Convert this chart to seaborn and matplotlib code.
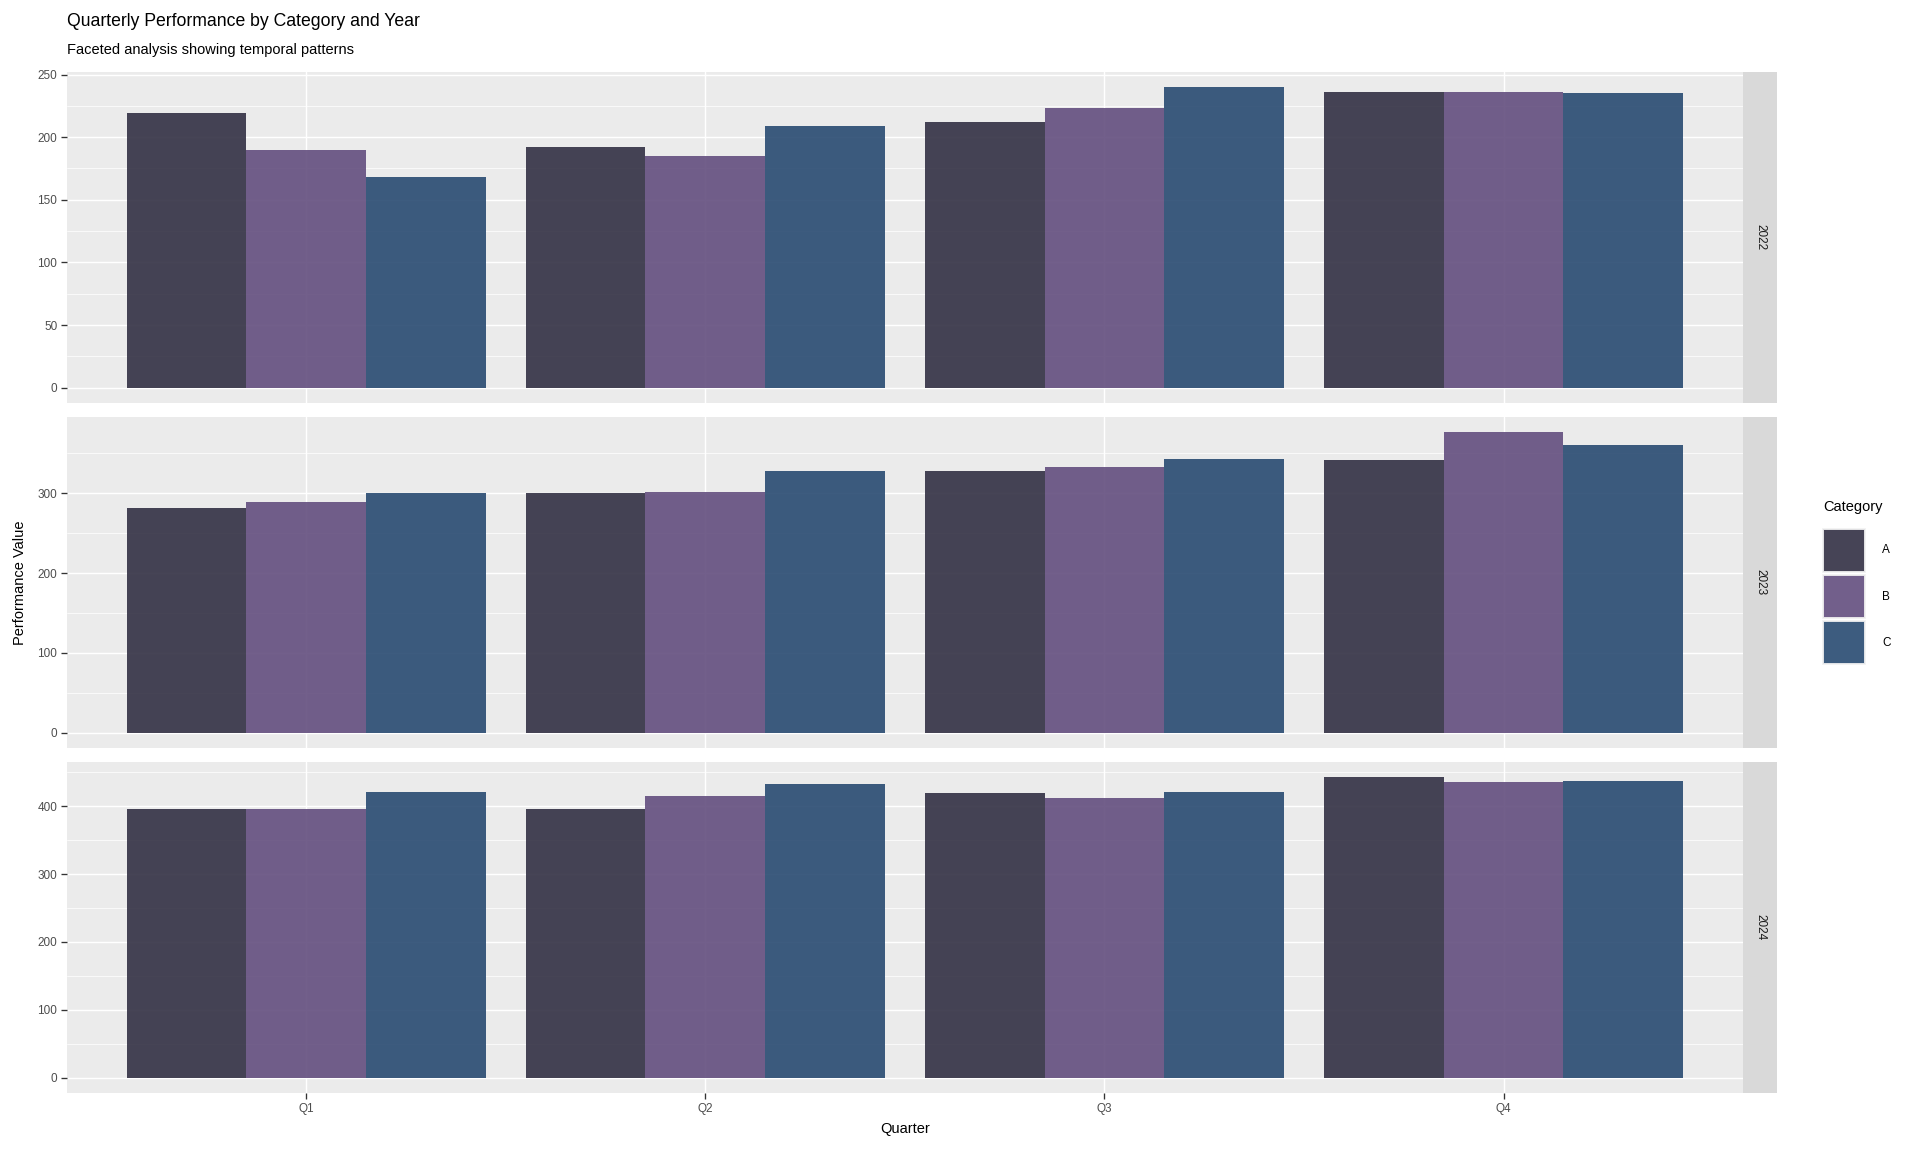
import numpy as np
import pandas as pd
import matplotlib
matplotlib.use("Agg")
import matplotlib.pyplot as plt
from matplotlib.patches import Rectangle
from matplotlib.ticker import FixedLocator
import seaborn as sns

# ==============================================================
# DATA
# ==============================================================
years = ["2022", "2023", "2024"]
quarters = ["Q1", "Q2", "Q3", "Q4"]
categories = ["A", "B", "C"]

# values per category, ordered year by year, Q1..Q4
cat_a = [219, 192, 212, 236, 282, 300, 328, 342, 396, 396, 419, 443]
cat_b = [190, 185, 223, 236, 289, 302, 333, 377, 396, 415, 412, 435]
cat_c = [168, 209, 240, 235, 300, 328, 343, 361, 421, 432, 421, 437]

y_steps = [50, 100, 100]
palette = {"A": "#323043", "B": "#634E7E", "C": "#284A71"}

rows = []
for cat, vals in zip(categories, [cat_a, cat_b, cat_c]):
    for i, v in enumerate(vals):
        rows.append({"Year": years[i // 4], "Quarter": quarters[i % 4],
                     "Category": cat, "Value": v})
df = pd.DataFrame(rows)

# ==============================================================
# STYLE
# ==============================================================
sns.set_style("white")
plt.rcParams["font.family"] = ["Liberation Sans", "DejaVu Sans"]

W, H = 1920, 1152
fig = plt.figure(figsize=(W / 96, H / 96), dpi=96)


def box(x0, y0, x1, y1):
    # pixel box (top-left origin) -> figure fraction rect
    return [x0 / W, 1 - y1 / H, (x1 - x0) / W, (y1 - y0) / H]


panel_left, panel_right, strip_right = 66.7, 1743, 1777
panel_y = [(72, 402.7), (416.7, 747.7), (762, 1092.7)]

for k, year in enumerate(years):
    y0, y1 = panel_y[k]
    ax = fig.add_axes(box(panel_left, y0, panel_right, y1))
    sub = df[df["Year"] == year]
    sns.barplot(data=sub, x="Quarter", y="Value", hue="Category",
                order=quarters, hue_order=categories, palette=palette,
                width=0.9, saturation=1, alpha=0.9, errorbar=None,
                linewidth=0, legend=False, ax=ax, zorder=2)

    ymax = sub["Value"].max()
    ax.set_ylim(-0.05 * ymax, 1.05 * ymax)
    ax.set_xlim(-0.6, len(quarters) - 0.4)
    step = y_steps[k]
    major = np.arange(0, ymax * 1.05, step)
    ax.yaxis.set_major_locator(FixedLocator(major))
    ax.yaxis.set_minor_locator(FixedLocator(major + step / 2))

    ax.set_facecolor("#EBEBEB")
    for s in ax.spines.values():
        s.set_visible(False)
    ax.set_axisbelow(True)
    ax.grid(which="major", color="white", linewidth=1.1)
    ax.grid(which="minor", axis="y", color="white", linewidth=0.55)
    ax.set_xlabel("")
    ax.set_ylabel("")
    ax.tick_params(axis="y", which="major", length=4.5, width=1.0,
                   color="#333333", labelsize=8.8, labelcolor="#4D4D4D",
                   pad=2.5, left=True)
    ax.tick_params(axis="y", which="minor", length=0)
    if k < len(years) - 1:
        ax.tick_params(axis="x", bottom=False, labelbottom=False)
    else:
        ax.tick_params(axis="x", length=4.5, width=1.0, color="#333333",
                       labelsize=8.8, labelcolor="#4D4D4D", pad=3,
                       bottom=True)

    # facet strip on the right
    sax = fig.add_axes(box(panel_right, y0, strip_right, y1))
    sax.set_facecolor("#D9D9D9")
    sax.set_xticks([])
    sax.set_yticks([])
    for s in sax.spines.values():
        s.set_visible(False)
    sax.text(0.5, 0.5, year, rotation=270, ha="center", va="center",
             fontsize=8.8, color="#1A1A1A", transform=sax.transAxes)

# ==============================================================
# TITLES / LABELS
# ==============================================================
fig.text(panel_left / W, 1 - 21.7 / H,
         "Quarterly Performance by Category and Year",
         fontsize=13.2, ha="left", va="center", color="black")
fig.text(panel_left / W, 1 - 50 / H, "Faceted analysis showing temporal patterns",
         fontsize=11, ha="left", va="center", color="black")
fig.text(20.5 / W, 1 - (72 + 1092.7) / 2 / H, "Performance Value", rotation=90,
         fontsize=11, ha="center", va="center", color="black")
fig.text((panel_left + panel_right) / 2 / W, 1 - 1129 / H, "Quarter",
         fontsize=11, ha="center", va="center", color="black")

# ==============================================================
# LEGEND
# ==============================================================
fig.text(1823 / W, 1 - 507 / H, "Category", fontsize=11,
         ha="left", va="center", color="black")
for i, cat in enumerate(categories):
    top = 529 + i * 46
    r = Rectangle((1823 / W, 1 - (top + 43) / H), 42 / W, 43 / H,
                  transform=fig.transFigure, facecolor=palette[cat],
                  alpha=0.9, edgecolor="#F2F2F2", linewidth=1.5)
    fig.patches.append(r)
    fig.text(1882 / W, 1 - (top + 21.5) / H, cat, fontsize=8.8,
             ha="left", va="center", color="black")

fig.savefig("out.png", dpi=96, facecolor="white")
